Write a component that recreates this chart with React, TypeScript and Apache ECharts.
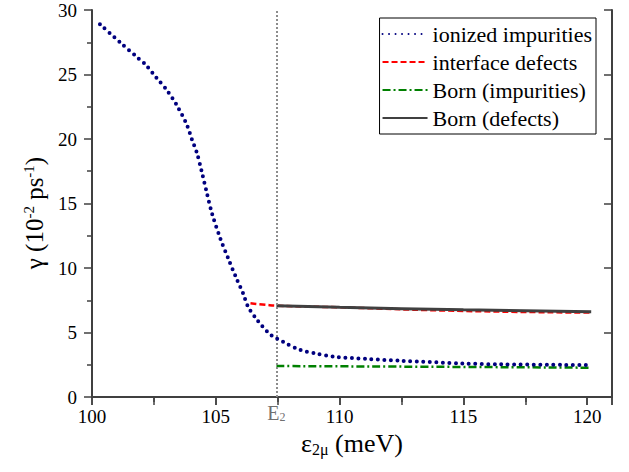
import React, { useEffect, useRef } from "react";
import * as echarts from "echarts";

const ionizedX = [100.32, 101.13, 101.87, 102.15, 102.62, 103.02, 103.43, 103.83, 104.03, 104.24, 104.44, 104.64, 104.85, 105.18, 105.53, 105.86, 106.1, 106.3, 106.67, 107.14, 107.45, 107.75, 108.42, 109.03, 109.77, 111.12, 112.47, 114.99, 116.5, 119.98];
const ionizedY = [28.9, 27.5, 26.26, 25.8, 24.7, 23.8, 22.6, 21.1, 20.0, 18.9, 17.4, 15.8, 14.2, 12.3, 10.6, 9.07, 8.04, 7.0, 5.97, 4.94, 4.55, 4.24, 3.64, 3.38, 3.12, 2.95, 2.81, 2.6, 2.53, 2.48];
const interfaceX = [106.4, 107.0, 107.45, 110, 115, 120.16];
const interfaceY = [7.26, 7.15, 7.08, 6.95, 6.67, 6.54];
const bornImpX = [107.45, 115, 120.16];
const bornImpY = [2.4, 2.33, 2.27];
const bornDefX = [107.45, 110, 115, 120.16];
const bornDefY = [7.08, 6.95, 6.76, 6.6];
const E2 = 107.45;
const names = ["ionized impurities", "interface defects", "Born (impurities)", "Born (defects)"];

const zip = (xs: number[], ys: number[]) => xs.map((x, i) => [x, ys[i]]);

export default function App() {
  const ref = useRef<HTMLDivElement>(null);
  useEffect(() => {
    const chart = echarts.init(ref.current!, null, { renderer: "svg" });
    const font = "Liberation Serif";
    const axisColor = "#404040";
    const tickRich = { t: { fontFamily: font, fontSize: 19, color: "#000" } };
    const baseX = {
      min: 100,
      max: 121,
      interval: 5,
      axisLine: { lineStyle: { color: axisColor, width: 2 } },
      splitLine: { show: false },
      minorTick: { show: true, splitNumber: 2, length: 5, lineStyle: { color: axisColor, width: 1.5 } },
      axisTick: { length: 8, lineStyle: { color: axisColor, width: 1.5 } },
    };
    const baseY = {
      min: 0,
      max: 30,
      interval: 5,
      axisLine: { show: true, lineStyle: { color: axisColor, width: 2 } },
      splitLine: { show: false },
      minorTick: { show: true, splitNumber: 2, length: 5, lineStyle: { color: axisColor, width: 1.5 } },
      axisTick: { show: true, length: 8, lineStyle: { color: axisColor, width: 1.5 } },
    };
    chart.setOption({
      animation: false,
      textStyle: { fontFamily: font },
      grid: { left: 92, top: 10, right: 17, bottom: 75 },
      graphic: [
        {
          type: "text",
          x: 34,
          y: 213,
          rotation: Math.PI / 2,
          style: {
            text: "{m|γ (10}{sup|-2}{m| ps}{sup|-1}{m|)}",
            align: "center",
            verticalAlign: "middle",
            fontFamily: font,
            fontSize: 25,
            fill: "#000",
            rich: {
              m: { fontFamily: font, fontSize: 25, fill: "#000", color: "#000" },
              sup: { fontFamily: font, fontSize: 15, verticalAlign: "top", padding: [0, 0, 11, 0], fill: "#000", color: "#000" },
            },
          },
        },
      ],
      legend: {
        right: 33,
        top: 18,
        orient: "vertical",
        data: names,
        itemWidth: 45,
        itemHeight: 10,
        itemGap: 6,
        borderColor: "#000",
        borderWidth: 1,
        borderRadius: 0,
        padding: [5, 4, 5, 2],
        itemStyle: { opacity: 0, borderWidth: 0 },
        formatter: (n: string) => `{t|${n}}`,
        textStyle: { fontFamily: font, fontSize: 22, color: "#000", rich: { t: { fontFamily: font, fontSize: 22, color: "#000" } } },
      },
      xAxis: [
        {
          type: "value",
          position: "bottom",
          ...baseX,
          axisLabel: { fontFamily: font, fontSize: 19, color: "#000", margin: 10, formatter: (v: number) => `{t|${v}}`, rich: tickRich },
          name: "{m|ε}{sub|2μ}{m| (meV)}",
          nameLocation: "middle",
          nameGap: 30,
          nameTextStyle: {
            fontFamily: font,
            fontSize: 26,
            color: "#000",
            rich: {
              m: { fontFamily: font, fontSize: 26, color: "#000" },
              sub: { fontFamily: font, fontSize: 16, verticalAlign: "bottom", padding: [12, 0, 0, 0], color: "#000" },
            },
          },
        },
        {
          type: "value",
          position: "top",
          ...baseX,
          axisLabel: { show: false },
          axisTick: { ...baseX.axisTick, inside: true },
          minorTick: { ...baseX.minorTick, length: 8 },
        },
      ],
      yAxis: [
        {
          type: "value",
          position: "left",
          ...baseY,
          axisLabel: { fontFamily: font, fontSize: 19, color: "#000", margin: 15, formatter: (v: number) => `{t|${v}}`, rich: tickRich },
        },
        {
          type: "value",
          position: "right",
          ...baseY,
          axisLabel: { show: false },
          axisTick: { ...baseY.axisTick, inside: true },
          minorTick: { show: false },
        },
      ],
      series: [
        {
          name: names[0],
          type: "line",
          data: zip(ionizedX, ionizedY),
          smooth: 0.3,
          showSymbol: false,
          symbol: "none",
          lineStyle: { color: "#00007f", width: 4, type: [0, 6.5], cap: "round" },
          itemStyle: { color: "#00007f" },
          z: 5,
          markLine: {
            silent: true,
            symbol: "none",
            data: [{ xAxis: E2 }],
            lineStyle: { color: "#8c8c8c", width: 2, type: [2, 2] },
            label: {
              show: true,
              position: "start",
              distance: 6,
              formatter: "{a|E}{b|2}",
              rich: {
                a: { fontFamily: font, fontSize: 20, color: "#707070" },
                b: { fontFamily: font, fontSize: 12, color: "#707070", verticalAlign: "bottom", padding: [8, 0, 0, 0] },
              },
            },
          },
        },
        {
          name: names[1],
          type: "line",
          data: zip(interfaceX, interfaceY),
          smooth: true,
          symbol: "none",
          lineStyle: { color: "#ff0000", width: 2.5, type: [6, 3] },
          itemStyle: { color: "#ff0000" },
          z: 3,
        },
        {
          name: names[2],
          type: "line",
          data: zip(bornImpX, bornImpY),
          smooth: true,
          symbol: "none",
          lineStyle: { color: "#008000", width: 2.5, type: [8, 3, 2, 3] },
          itemStyle: { color: "#008000" },
          z: 3,
        },
        {
          name: names[3],
          type: "line",
          data: zip(bornDefX, bornDefY),
          smooth: true,
          symbol: "none",
          lineStyle: { color: "#404040", width: 3, type: "solid" },
          itemStyle: { color: "#404040" },
          z: 4,
        },
      ],
    });
    return () => chart.dispose();
  }, []);
  return <div ref={ref} style={{ width: 629, height: 472, position: "absolute", left: 0, top: 0 }} />;
}
